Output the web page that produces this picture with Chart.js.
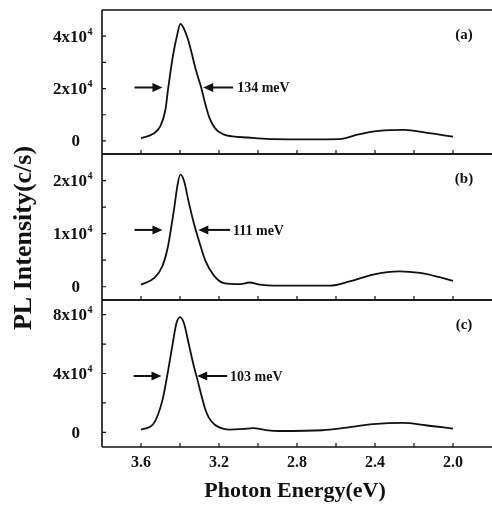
<!DOCTYPE html>
<html><head><meta charset="utf-8">
<script src="https://cdn.jsdelivr.net/npm/chart.js@4.4.1/dist/chart.umd.min.js"></script>
<style>
html,body{margin:0;padding:0;background:#fff;}
#wrap{position:relative;width:492px;height:506px;background:#fff;overflow:hidden}
canvas{position:absolute;left:0;top:0}
</style></head><body>
<div id="wrap"><canvas id="ca" width="492" height="506"></canvas><canvas id="cb" width="492" height="506"></canvas><canvas id="cc" width="492" height="506"></canvas></div>
<script>
// ---- data (photon energy in eV, PL intensity in c/s) ----
const energyA = [3.60,3.54,3.50,3.475,3.46,3.435,3.415,3.398,3.383,3.36,3.34,3.32,3.29,3.27,3.25,3.22,3.18,3.13,3.05,3.00,2.92,2.75,2.58,2.49,2.38,2.25,2.14,2.00];
const intensityA = [1000,2600,5700,11800,20400,33000,40300,44700,43300,39000,33500,27500,20000,14000,9000,4800,2600,1700,1300,1000,700,600,700,2400,3800,4200,3200,1600];
const energyB = [3.60,3.53,3.49,3.465,3.448,3.43,3.413,3.398,3.38,3.355,3.33,3.304,3.27,3.226,3.175,3.09,3.045,2.99,2.92,2.63,2.53,2.41,2.275,2.17,2.07,2.00];
const intensityB = [400,1700,3900,7000,10500,14700,19100,21100,20000,15900,12100,8800,4900,2100,700,500,800,400,200,200,1000,2300,2900,2600,1800,1100];
const energyC = [3.60,3.535,3.49,3.465,3.44,3.418,3.40,3.38,3.355,3.33,3.31,3.29,3.27,3.25,3.22,3.18,3.143,3.075,3.025,2.96,2.89,2.67,2.545,2.41,2.257,2.14,2.00];
const intensityC = [1800,6000,21900,39000,58300,74300,78400,74300,60000,45500,35500,25000,15500,9500,5000,2500,1800,2300,2800,1500,900,1400,3200,5500,6400,4800,2500];

// ---- ticks ----
const xTickValues = [3.8,3.6,3.4,3.2,3.0,2.8,2.6,2.4,2.2,2.0,1.8];
const xLabelValues = [3.6,3.2,2.8,2.4,2.0];
const xLabels = ['3.6','3.2','2.8','2.4','2.0'];
const yMajorA = [0,20000,40000], yLabelsA = ['0','2x10^4','4x10^4'], yMinorA = [10000,30000];
const yMajorB = [0,10000,20000], yLabelsB = ['0','1x10^4','2x10^4'], yMinorB = [5000,15000];
const yMajorC = [0,40000,80000], yLabelsC = ['0','4x10^4','8x10^4'], yMinorC = [20000,60000];
const panelNames = ['(a)','(b)','(c)'];
const fwhmLabels = ['134 meV','111 meV','103 meV'];

const SERIF = '"Liberation Serif","Times New Roman",serif';

const panels = [
  {id:'ca', energy:energyA, inten:intensityA, ymin:-5000, ymax:50000, major:yMajorA, labels:yLabelsA, minor:yMinorA,
   name:panelNames[0], fwhm:fwhmLabels[0], level:20400, left:[3.633,3.49], right:[3.128,3.281], text:3.107,
   pad:{top:10,bottom:352}},
  {id:'cb', energy:energyB, inten:intensityB, ymin:-2500, ymax:25000, major:yMajorB, labels:yLabelsB, minor:yMinorB,
   name:panelNames[1], fwhm:fwhmLabels[1], level:10700, left:[3.633,3.49], right:[3.143,3.306], text:3.128,
   pad:{top:154,bottom:206}, ytitle:true},
  {id:'cc', energy:energyC, inten:intensityC, ymin:-10000, ymax:90000, major:yMajorC, labels:yLabelsC, minor:yMinorC,
   name:panelNames[2], fwhm:fwhmLabels[2], level:38300, left:[3.638,3.495], right:[3.158,3.312], text:3.143,
   pad:{top:300,bottom:59}, xaxis:true}
];

function drawArrow(ctx, xTail, xTip, y){
  const d = Math.sign(xTip - xTail);
  ctx.beginPath(); ctx.moveTo(xTail, y); ctx.lineTo(xTip - d*6, y); ctx.stroke();
  ctx.beginPath(); ctx.moveTo(xTip, y); ctx.lineTo(xTip - d*10, y - 4.5); ctx.lineTo(xTip - d*10, y + 4.5); ctx.closePath(); ctx.fill();
}

function makePlugin(p){
  return {
    id:'deco_'+p.id,
    afterDraw(chart){
      const ctx = chart.ctx, a = chart.chartArea, xs = chart.scales.x, ys = chart.scales.y;
      ctx.save();
      ctx.strokeStyle = '#111'; ctx.fillStyle = '#111'; ctx.lineWidth = 1.6;
      // frame
      ctx.beginPath();
      ctx.moveTo(a.left, a.top); ctx.lineTo(a.right, a.top);
      ctx.moveTo(a.left, a.top); ctx.lineTo(a.left, a.bottom);
      ctx.moveTo(a.left, a.bottom); ctx.lineTo(a.right, a.bottom);
      ctx.stroke();
      // x ticks (inward at bottom)
      ctx.lineWidth = 1.2;
      ctx.beginPath();
      xTickValues.forEach(v => { const px = xs.getPixelForValue(v); if (px > a.left+2 && px < a.right-2){ ctx.moveTo(px, a.bottom); ctx.lineTo(px, a.bottom-4);} });
      // y ticks (inward)
      p.major.concat(p.minor).forEach(v => { const py = ys.getPixelForValue(v); ctx.moveTo(a.left, py); ctx.lineTo(a.left+4, py); });
      ctx.stroke();
      // y labels
      ctx.textBaseline = 'middle';
      p.major.forEach((v,i) => {
        const py = ys.getPixelForValue(v);
        const parts = p.labels[i].split('^');
        if (parts.length === 1){
          ctx.font = 'bold 17px ' + SERIF; ctx.textAlign = 'right';
          ctx.fillText(parts[0], 80, py + 1);
        } else {
          ctx.font = 'bold 17px ' + SERIF; ctx.textAlign = 'right';
          ctx.fillText(parts[0], 87, py + 1);
          ctx.font = 'bold 10px ' + SERIF; ctx.textAlign = 'left';
          ctx.fillText(parts[1], 87.5, py - 4);
        }
      });
      // panel name
      ctx.font = 'bold 15px ' + SERIF; ctx.textAlign = 'center';
      ctx.fillText(p.name, a.right - 28, a.top + 25);
      // FWHM arrows
      ctx.lineWidth = 2;
      const ly = ys.getPixelForValue(p.level);
      drawArrow(ctx, xs.getPixelForValue(p.left[0]), xs.getPixelForValue(p.left[1]), ly);
      drawArrow(ctx, xs.getPixelForValue(p.right[0]), xs.getPixelForValue(p.right[1]), ly);
      ctx.font = 'bold 14px ' + SERIF; ctx.textAlign = 'left';
      ctx.fillText(p.fwhm, xs.getPixelForValue(p.text), ly + 1);
      // x axis labels + title
      if (p.xaxis){
        ctx.font = 'bold 16px ' + SERIF; ctx.textAlign = 'center'; ctx.textBaseline = 'middle';
        xLabelValues.forEach((v,i) => ctx.fillText(xLabels[i], xs.getPixelForValue(v), a.bottom + 16));
        ctx.font = 'bold 22px ' + SERIF; ctx.textBaseline = 'alphabetic';
        ctx.fillText('Photon Energy(eV)', 295, 497);
      }
      if (p.ytitle){
        ctx.save();
        ctx.translate(31, 238); ctx.rotate(-Math.PI/2);
        ctx.font = 'bold 26px ' + SERIF; ctx.textAlign = 'center'; ctx.textBaseline = 'alphabetic';
        ctx.fillText('PL Intensity(c/s)', 0, 0);
        ctx.restore();
      }
      ctx.restore();
    }
  };
}

panels.forEach(p => {
  new Chart(document.getElementById(p.id), {
    type:'line',
    data:{ datasets:[{ data:p.energy.map((e,i)=>({x:e, y:p.inten[i]})), borderColor:'#111', borderWidth:1.8,
      pointRadius:0, fill:false, cubicInterpolationMode:'monotone', tension:0.4 }] },
    options:{
      responsive:false, animation:false, devicePixelRatio:1,
      layout:{ padding:{ left:102, right:0, top:p.pad.top, bottom:p.pad.bottom } },
      plugins:{ legend:{display:false}, tooltip:{enabled:false} },
      scales:{
        x:{ type:'linear', min:1.8, max:3.8, reverse:true, display:false },
        y:{ type:'linear', min:p.ymin, max:p.ymax, display:false }
      }
    },
    plugins:[makePlugin(p)]
  });
});
</script>
</body></html>
